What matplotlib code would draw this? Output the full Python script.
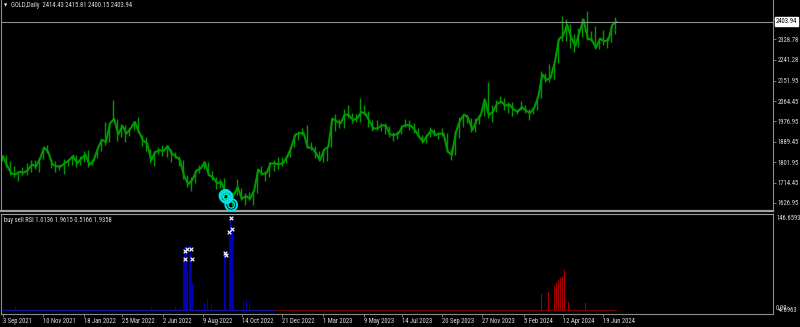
import matplotlib
matplotlib.use("Agg")
import matplotlib.pyplot as plt
import matplotlib.transforms as mtransforms
from matplotlib import font_manager
import pandas as pd
import numpy as np

# ---------------- data: weekly GOLD (Friday) close / high / low ----------------
close = [
    # 2021 from 3 Sep
    1827, 1788, 1754, 1750, 1761, 1757, 1767, 1793, 1783, 1818, 1865, 1846, 1793, 1784, 1783, 1798, 1809, 1829,
    # 2022
    1797, 1817, 1835, 1791, 1808, 1859, 1898, 1889, 1969, 1988, 1921, 1958, 1925, 1947, 1975, 1932, 1896, 1883,
    1811, 1846, 1853, 1851, 1871, 1840, 1826, 1811, 1742, 1708, 1727, 1766, 1775, 1802, 1747, 1737, 1712, 1716,
    1675, 1644, 1660, 1695, 1645, 1657, 1645, 1681, 1771, 1751, 1755, 1797, 1797, 1793, 1798, 1824,
    # 2023
    1865, 1920, 1926, 1928, 1865, 1865, 1842, 1811, 1856, 1868, 1989, 1978, 1969, 2007, 2004, 1983, 1990, 2017,
    2011, 1978, 1946, 1948, 1961, 1958, 1921, 1919, 1925, 1955, 1962, 1959, 1942, 1914, 1889, 1915, 1940, 1919,
    1924, 1925, 1848, 1833, 1932, 1981, 2006, 1992, 1940, 1981, 2002, 2072, 2004, 2019, 2053, 2062,
    # 2024
    2045, 2049, 2029, 2018, 2039, 2024, 2013, 2035, 2083, 2179, 2155, 2165, 2230, 2330, 2344, 2392, 2337, 2301,
    2360, 2414, 2333, 2327, 2293, 2333, 2321, 2326, 2392, 2404,
]
high = [
    1834, 1832, 1809, 1787, 1764, 1782, 1800, 1813, 1810, 1818, 1868, 1877, 1816, 1808, 1793, 1815, 1814, 1831,
    1831, 1830, 1848, 1853, 1814, 1864, 1902, 1974, 1972, 2070, 1989, 1966, 1960, 1950, 1978, 1998, 1920, 1909,
    1858, 1849, 1869, 1874, 1875, 1857, 1847, 1830, 1812, 1745, 1739, 1767, 1792, 1807, 1802, 1765, 1740, 1730,
    1735, 1688, 1676, 1729, 1690, 1668, 1676, 1682, 1773, 1786, 1764, 1804, 1810, 1824, 1824, 1833,
    1870, 1922, 1937, 1949, 1960, 1890, 1870, 1848, 1858, 1871, 1989, 2009, 1987, 2032, 2049, 2015, 2010, 2079,
    2048, 2022, 1985, 1983, 1970, 1970, 1959, 1933, 1935, 1963, 1987, 1982, 1970, 1948, 1917, 1924, 1953, 1945,
    1932, 1947, 1927, 1858, 1934, 1997, 2009, 2010, 1993, 1993, 2007, 2075, 2146, 2047, 2070, 2088,
    2078, 2062, 2059, 2031, 2065, 2049, 2032, 2041, 2088, 2195, 2185, 2223, 2236, 2331, 2431, 2418, 2395, 2353,
    2378, 2422, 2450, 2364, 2388, 2335, 2368, 2338, 2392, 2424,
]
low = [
    1808, 1781, 1745, 1737, 1721, 1746, 1746, 1760, 1772, 1759, 1816, 1843, 1778, 1762, 1770, 1753, 1787, 1790,
    1783, 1790, 1805, 1780, 1788, 1818, 1850, 1878, 1890, 1980, 1895, 1910, 1890, 1915, 1940, 1930, 1872, 1850,
    1798, 1787, 1836, 1828, 1825, 1805, 1822, 1785, 1732, 1697, 1680, 1711, 1754, 1773, 1745, 1727, 1688, 1691,
    1654, 1639, 1615, 1660, 1640, 1617, 1638, 1617, 1672, 1747, 1721, 1740, 1765, 1775, 1785, 1797,
    1824, 1867, 1896, 1917, 1861, 1855, 1819, 1809, 1805, 1809, 1868, 1934, 1949, 1950, 1992, 1969, 1975, 1975,
    2005, 1952, 1937, 1940, 1938, 1925, 1910, 1893, 1902, 1922, 1952, 1942, 1929, 1910, 1885, 1884, 1912, 1915,
    1901, 1913, 1846, 1810, 1834, 1908, 1953, 1970, 1932, 1931, 1965, 2001, 1993, 1973, 2016, 2058,
    2024, 2013, 2002, 2010, 2024, 2015, 1984, 2011, 2024, 2079, 2146, 2147, 2161, 2228, 2322, 2324, 2291, 2277,
    2298, 2338, 2325, 2324, 2286, 2287, 2303, 2293, 2319, 2352,
]
title_text = "GOLD,Daily  2414.43 2415.81 2400.15 2403.94"
last_price = 2403.94

# signal circles on the price chart
signal_dates = ["2022-09-16", "2022-09-18", "2022-09-26"]
signal_prices = [1658, 1652, 1619]

# indicator: buy (blue) and sell (red) histogram bars
buy_dates = ["2021-09-25", "2022-05-14", "2022-06-24",
             "2022-07-06", "2022-07-07", "2022-07-09", "2022-07-11", "2022-07-12", "2022-07-14",
             "2022-07-17", "2022-07-19", "2022-07-21", "2022-07-22",
             "2022-08-12", "2022-08-17", "2022-08-24",
             "2022-09-14", "2022-09-15", "2022-09-17", "2022-09-23", "2022-09-25", "2022-09-26",
             "2022-09-28", "2022-09-30",
             "2022-10-17", "2022-10-22", "2022-10-27"]
buy_vals = [8, 6, 8,
            65, 80, 96, 90, 100, 60,
            85, 98, 82, 40,
            12, 18, 10,
            80, 92, 88, 122, 142, 125,
            124, 60,
            15, 18, 10]
sell_dates = ["2024-03-06", "2024-03-19", "2024-03-28", "2024-04-01", "2024-04-04", "2024-04-08",
              "2024-04-11", "2024-04-15", "2024-04-21", "2024-05-21"]
sell_vals = [25, 28, 38, 42, 47, 50, 52, 62, 14, 12]
buy_base_span = ["2021-09-01", "2022-12-10"]
sell_base_span = ["2022-12-10", "2024-07-12"]
base_level = 1.5

# white x markers on the indicator
mark_dates = ["2022-07-09", "2022-07-12", "2022-07-19", "2022-07-09", "2022-07-21",
              "2022-09-15", "2022-09-17", "2022-09-25", "2022-09-23", "2022-09-28"]
mark_vals = [91, 94, 94, 79, 79, 88, 85, 141, 120, 124]

ind_title = "buy sell RSI 1.0136 1.9615 0.5166 1.9358"
price_ticks = [2416.38, 2328.78, 2241.28, 2151.95, 2064.45, 1976.95, 1889.45, 1801.95, 1714.45, 1626.95]
price_labels = ["2416.38", "2328.78", "2241.28", "2151.95", "2064.45", "1976.95", "1889.45", "1801.95",
                "1714.45", "1626.95"]
ind_top_label = "146.6593"
ind_bottom_labels = ["0.00", "-4.6963"]
ind_top = 146.6593
ind_bottom = -4.6963

xtick_dates = ["2021-09-03", "2021-11-10", "2022-01-18", "2022-03-25", "2022-06-02", "2022-08-09",
               "2022-10-14", "2022-12-21", "2023-03-01", "2023-05-09", "2023-07-14", "2023-09-20",
               "2023-11-27", "2024-02-05", "2024-04-12", "2024-06-19"]
xtick_labels = ["3 Sep 2021", "10 Nov 2021", "18 Jan 2022", "25 Mar 2022", "2 Jun 2022", "9 Aug 2022",
                "14 Oct 2022", "21 Dec 2022", "1 Mar 2023", "9 May 2023", "14 Jul 2023", "20 Sep 2023",
                "27 Nov 2023", "5 Feb 2024", "12 Apr 2024", "19 Jun 2024"]

# ---------------- drawing ----------------
available = {f.name for f in font_manager.fontManager.ttflist}
FONT = "DejaVu Sans"
for cand in ["Liberation Sans Narrow", "DejaVu Sans Condensed", "Roboto Condensed", "Liberation Sans", "Roboto"]:
    if cand in available:
        FONT = cand
        break
plt.rcParams['font.family'] = [FONT, "DejaVu Sans"]
TXT = "#dcdcdc"
GRID = "#8a8a8a"
FS = 4.8 if "Narrow" in FONT or "Condensed" in FONT else 4.3

n = min(len(close), len(high), len(low))
week_dates = pd.date_range("2021-09-03", periods=n, freq="W-FRI")
mid_dates = week_dates - pd.Timedelta(days=2)

fig = plt.figure(figsize=(8, 3.27), dpi=100, facecolor="black")
W = 772 / 800
ax1 = fig.add_axes([1 / 800, 116 / 327, W, 211 / 327], facecolor="black")
ax2 = fig.add_axes([1 / 800, 13 / 327, W, 100 / 327], facecolor="black", sharex=ax1)

x0 = pd.Timestamp("2021-09-03") - pd.Timedelta(days=3.4)
x1 = pd.Timestamp("2021-09-03") + pd.Timedelta(days=1309)
ax1.set_xlim(x0, x1)
ax1.set_ylim(1592.6, 2498.3)

green = "#009a00"
ax1.vlines(mid_dates, low[:n], high[:n], color=green, lw=1.0)
ax1.plot(week_dates, close[:n], color=green, lw=1.5)
ax1.axhline(last_price, color="#909090", lw=0.8)

sd = pd.to_datetime(signal_dates)
ax1.scatter(sd, signal_prices, s=70, facecolors="none", edgecolors="#00e5e5", linewidths=1.4, zorder=5)
ax1.scatter(sd, signal_prices, s=22, facecolors="none", edgecolors="#00e5e5", linewidths=1.0, zorder=5)

# price axis
ax1.yaxis.tick_right()
ax1.set_yticks(price_ticks)
ax1.set_yticklabels(price_labels)
ax1.tick_params(axis="y", colors=GRID, labelcolor=TXT, labelsize=FS, length=2, pad=1.5, width=0.6)
ax1.tick_params(axis="x", bottom=False, labelbottom=False)
ax1.spines["top"].set_visible(False)
ax1.spines["right"].set_color(GRID)
ax1.spines["left"].set_color(GRID)
ax1.spines["bottom"].set_color("#a0a0a0")
ax1.spines["bottom"].set_linewidth(1.6)
ax1.spines["left"].set_linewidth(0.8)
ax1.spines["right"].set_linewidth(0.8)

trans1 = mtransforms.blended_transform_factory(ax1.transAxes, ax1.transData)
ax1.text(1.004, last_price, f"{last_price:.2f}", transform=trans1, ha="left", va="center",
         fontsize=FS, color="black", clip_on=False, zorder=10,
         bbox=dict(boxstyle="square,pad=0.15", fc="white", ec="white"))
ax1.text(0.004, 0.985, "\u25bc", transform=ax1.transAxes, ha="left", va="top", fontsize=3.0,
         color="white", family=["DejaVu Sans"])
ax1.text(0.013, 0.99, title_text, transform=ax1.transAxes, ha="left", va="top", fontsize=FS, color=TXT)

# indicator
ax2.set_ylim(ind_bottom, ind_top)
bd = pd.to_datetime(buy_dates)
ax2.bar(bd, buy_vals, width=1.6, color="#0000b8", align="center")
sdd = pd.to_datetime(sell_dates)
ax2.bar(sdd, sell_vals, width=1.6, color="#a80000", align="center")
ax2.hlines(base_level, pd.Timestamp(buy_base_span[0]), pd.Timestamp(buy_base_span[1]), color="#10109a", lw=1.0)
ax2.hlines(base_level, pd.Timestamp(sell_base_span[0]), pd.Timestamp(sell_base_span[1]), color="#6a0000", lw=1.0)
md = pd.to_datetime(mark_dates)
ax2.scatter(md, mark_vals, marker="x", s=7, color="white", linewidths=0.8, zorder=5)

ax2.text(0.004, 0.975, ind_title, transform=ax2.transAxes, ha="left", va="top", fontsize=FS, color=TXT)
ax2.set_yticks([])
ax2.text(1.004, 0.99, ind_top_label, transform=ax2.transAxes, ha="left", va="top", fontsize=FS, color=TXT,
         clip_on=False)
ax2.text(1.004, 0.025, ind_bottom_labels[0], transform=ax2.transAxes, ha="left", va="bottom", fontsize=FS,
         color=TXT, clip_on=False)
ax2.text(1.006, -0.005, ind_bottom_labels[1], transform=ax2.transAxes, ha="left", va="bottom", fontsize=FS,
         color=TXT, clip_on=False)

xt = pd.to_datetime(xtick_dates)
ax2.set_xticks(xt)
ax2.set_xticklabels(xtick_labels, ha="left")
ax2.tick_params(axis="x", colors=GRID, labelcolor=TXT, labelsize=FS, length=2, pad=1.2, width=0.6)
ax2.spines["top"].set_color("#a0a0a0")
ax2.spines["top"].set_linewidth(0.8)
for s in ["left", "right", "bottom"]:
    ax2.spines[s].set_color(GRID)
    ax2.spines[s].set_linewidth(0.8)

fig.savefig("out.png", dpi=100, facecolor="black")
